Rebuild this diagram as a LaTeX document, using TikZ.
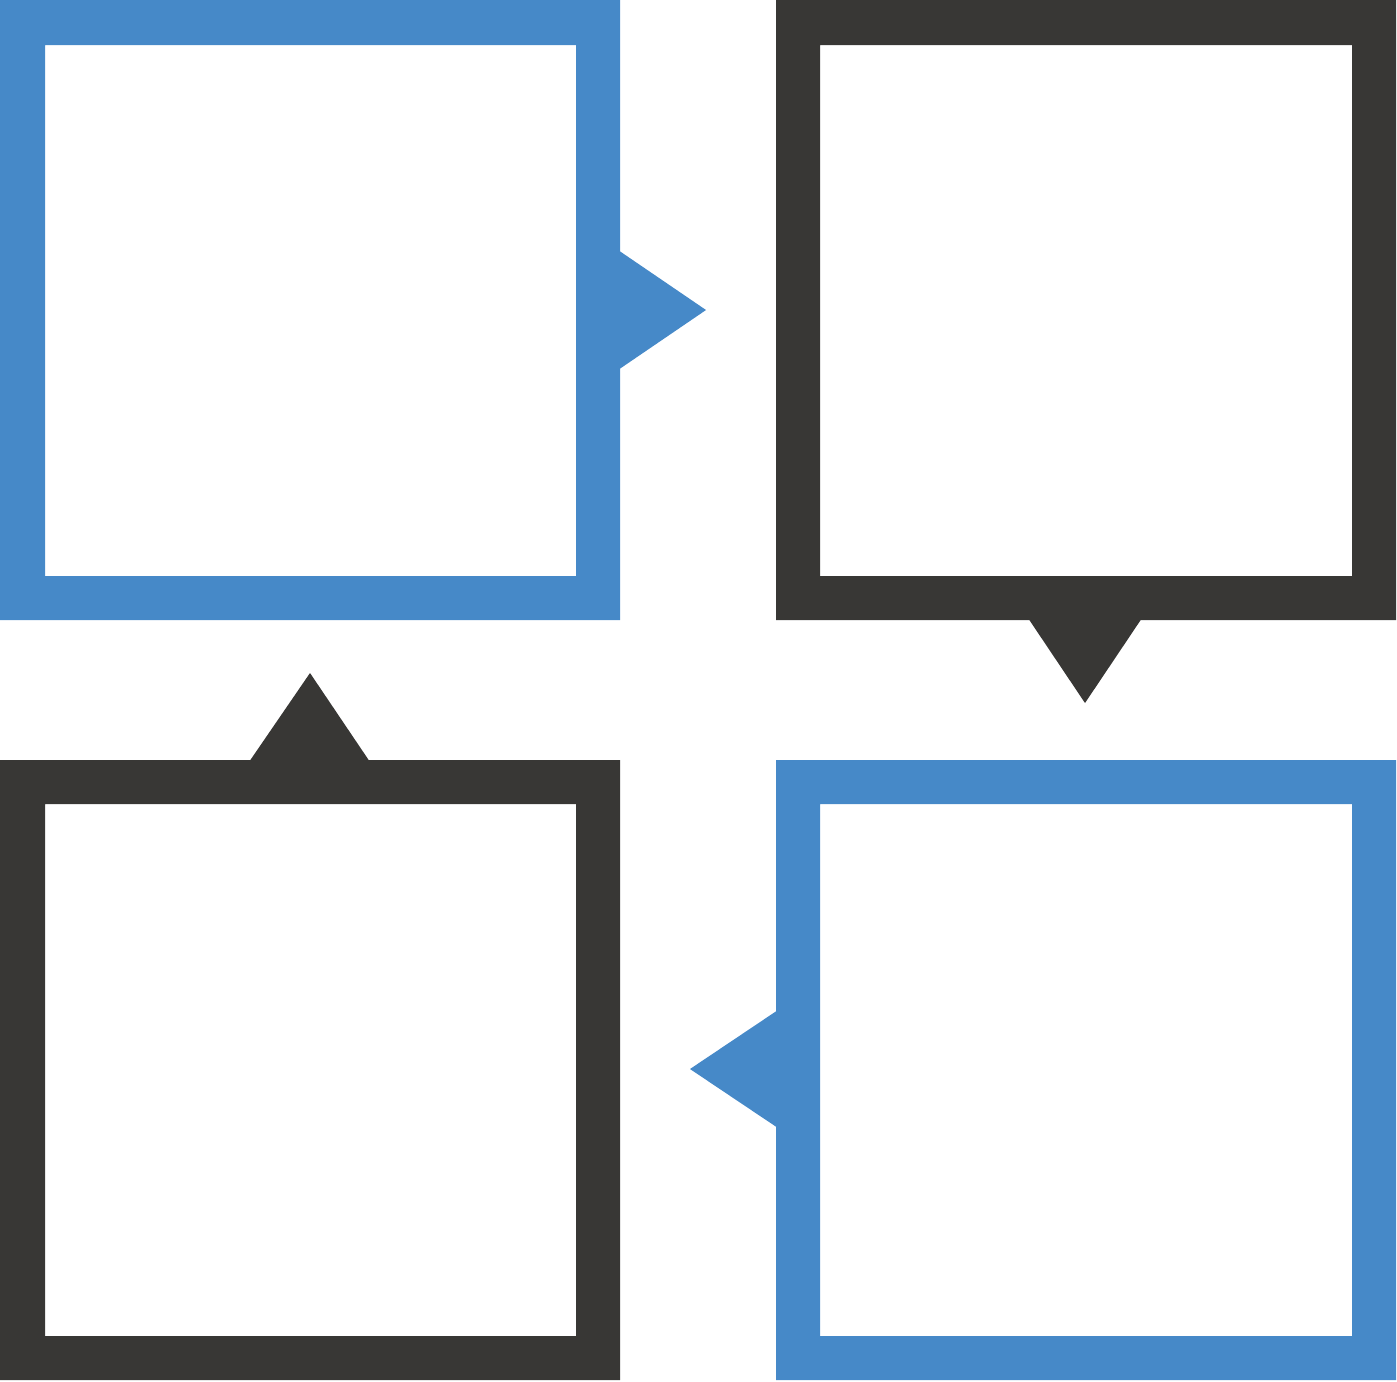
\documentclass[tikz,border=0pt]{standalone}
\definecolor{boxblue}{HTML}{4689C8}
\definecolor{boxdark}{HTML}{383735}
\begin{document}
\begin{tikzpicture}[x=0.01cm,y=-0.01cm,
  frame/.style={even odd rule}]
\useasboundingbox (0,0) rectangle (1397,1381);
% top-left (blue)
\fill[boxblue,frame] (0,0) rectangle (620,620) (45,45) rectangle (576,576);
\fill[boxblue] (618,250) -- (706,310) -- (618,370) -- cycle;
% top-right (dark)
\fill[boxdark,frame] (776,0) rectangle (1396,620) (820,45) rectangle (1352,576);
\fill[boxdark] (1028,618) -- (1085,703) -- (1142,618) -- cycle;
% bottom-left (dark)
\fill[boxdark,frame] (0,760) rectangle (620,1380) (45,804) rectangle (576,1336);
\fill[boxdark] (249,762) -- (310,673) -- (370,762) -- cycle;
% bottom-right (blue)
\fill[boxblue,frame] (776,760) rectangle (1396,1380) (820,804) rectangle (1352,1336);
\fill[boxblue] (778,1010) -- (690,1069) -- (778,1128) -- cycle;
\end{tikzpicture}
\end{document}
